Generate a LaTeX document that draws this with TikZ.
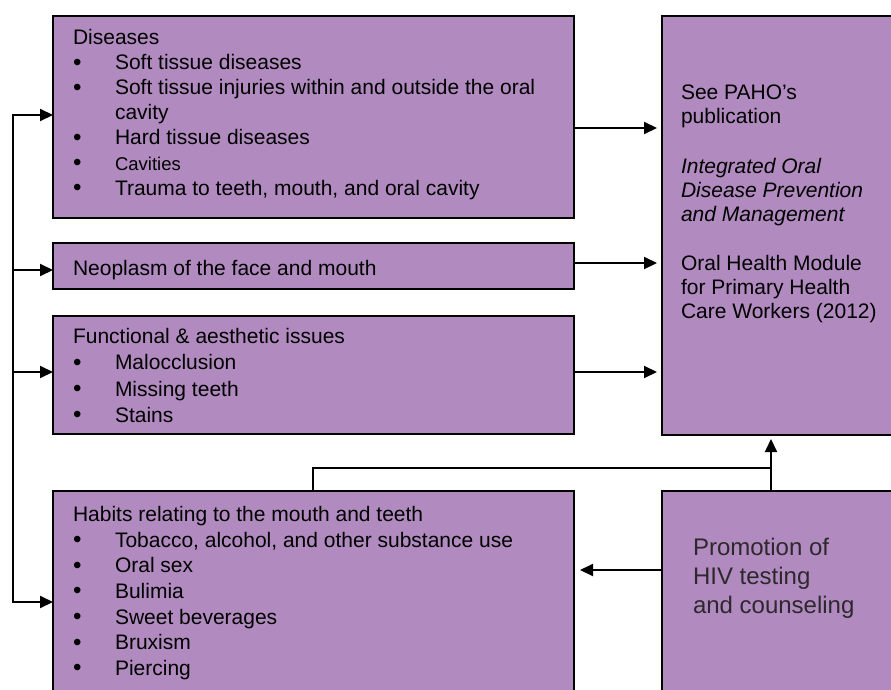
\documentclass[tikz,border=0pt]{standalone}
\usepackage{fontspec}
\setmainfont{Liberation Sans}
\usetikzlibrary{arrows.meta}
\definecolor{boxpurple}{RGB}{177,139,191}
\definecolor{protext}{RGB}{45,40,45}
\newcommand\bul{\makebox[42pt][l]{\raisebox{-0.5pt}{\scalebox{1.15}{\textbullet}}}}
\tikzset{
  box/.style={draw=black, line width=2pt, fill=boxpurple, anchor=north west, inner sep=0, outer sep=0},
  txt/.style={inner sep=0, outer sep=0, anchor=base west, text=black, font=\fontsize{21}{25}\selectfont},
  bigtxt/.style={inner sep=0, outer sep=0, anchor=base west, text=protext, font=\fontsize{24}{29}\selectfont},
  conn/.style={draw=black, line width=2pt},
  arr/.style={conn, -{Triangle[length=13pt,width=12pt]}}
}
\begin{document}
\begin{tikzpicture}[x=1pt,y=-1pt]
\clip (0,0) rectangle (891,690);
\fill[white] (0,0) rectangle (891,690);
% boxes
\node[box, minimum width=521pt, minimum height=202pt] (dis) at (53,16) {};
\node[box, minimum width=521pt, minimum height=46pt] (neo) at (53,243) {};
\node[box, minimum width=521pt, minimum height=118pt] (fun) at (53,316) {};
\node[box, minimum width=521pt, minimum height=220pt] (hab) at (53,491) {};
\node[box, minimum width=240pt, minimum height=419pt] (paho) at (662,16) {};
\node[box, minimum width=240pt, minimum height=220pt] (pro) at (662,491) {};
% Diseases text
\node[txt] (d0) at (73,45) {Diseases};
\node[txt] (d1) at (73,70) {\bul Soft tissue diseases};
\node[txt] (d2) at (73,95) {\bul Soft tissue injuries within and outside the oral};
\node[txt] (d2b) at (115,120) {cavity};
\node[txt] (d3) at (73,145) {\bul Hard tissue diseases};
\node[txt] (d4) at (73,170) {\bul{\fontsize{18.5}{22}\selectfont Cavities}};
\node[txt] (d5) at (73,195) {\bul Trauma to teeth, mouth, and oral cavity};
% Neoplasm
\node[txt] (n0) at (73,275) {Neoplasm of the face and mouth};
% Functional
\node[txt] (f0) at (73,343) {Functional \& aesthetic issues};
\node[txt] (f1) at (73,369.5) {\bul Malocclusion};
\node[txt] (f2) at (73,396) {\bul Missing teeth};
\node[txt] (f3) at (73,422) {\bul Stains};
% Habits
\node[txt] (h0) at (73,521) {Habits relating to the mouth and teeth};
\node[txt] (h1) at (73,547) {\bul Tobacco, alcohol, and other substance use};
\node[txt] (h2) at (73,572.5) {\bul Oral sex};
\node[txt] (h3) at (73,598) {\bul Bulimia};
\node[txt] (h4) at (73,624) {\bul Sweet beverages};
\node[txt] (h5) at (73,649.5) {\bul Bruxism};
\node[txt] (h6) at (73,675) {\bul Piercing};
% PAHO
\node[txt] (p0) at (681,100) {See PAHO’s};
\node[txt] (p1) at (681,124) {publication};
\node[txt] (p2) at (681,173) {\itshape Integrated Oral};
\node[txt] (p3) at (681,197) {\itshape Disease Prevention};
\node[txt] (p4) at (681,221) {\itshape and Management};
\node[txt] (p5) at (681,270) {Oral Health Module};
\node[txt] (p6) at (681,294) {for Primary Health};
\node[txt] (p7) at (681,318) {Care Workers (2012)};
% Promotion
\node[bigtxt] (r0) at (693,555) {Promotion of};
\node[bigtxt] (r1) at (693,584) {HIV testing};
\node[bigtxt] (r2) at (693,613) {and counseling};
% connector coordinates
\coordinate (b1) at (13,115);
\coordinate (b2) at (13,270);
\coordinate (b3) at (13,372);
\coordinate (b4) at (13,602);
\coordinate (r1y) at (0,128);
\coordinate (r2y) at (0,263);
\coordinate (r3y) at (0,372);
\coordinate (hj) at (313,468);
\coordinate (vj) at (771,468);
\coordinate (ly) at (0,570);
% left bus
\draw[conn, line cap=rect] (b1) -- (b4);
\draw[arr] (b1) -- (b1 -| dis.west);
\draw[arr] (b2) -- (b2 -| neo.west);
\draw[arr] (b3) -- (b3 -| fun.west);
\draw[arr] (b4) -- (b4 -| hab.west);
% right arrows
\draw[arr, shorten >=5pt] (dis.east |- r1y) -- (paho.west |- r1y);
\draw[arr, shorten >=5pt] (neo.east |- r2y) -- (paho.west |- r2y);
\draw[arr, shorten >=5pt] (fun.east |- r3y) -- (paho.west |- r3y);
% upward connectors
\draw[conn, line cap=rect] (hab.north -| hj) -- (hj) -- (vj);
\draw[arr, shorten >=4pt] (pro.north -| vj) -- (paho.south -| vj);
% promotion to habits
\draw[arr, shorten >=6pt] (pro.west |- ly) -- (hab.east |- ly);
\end{tikzpicture}
\end{document}
